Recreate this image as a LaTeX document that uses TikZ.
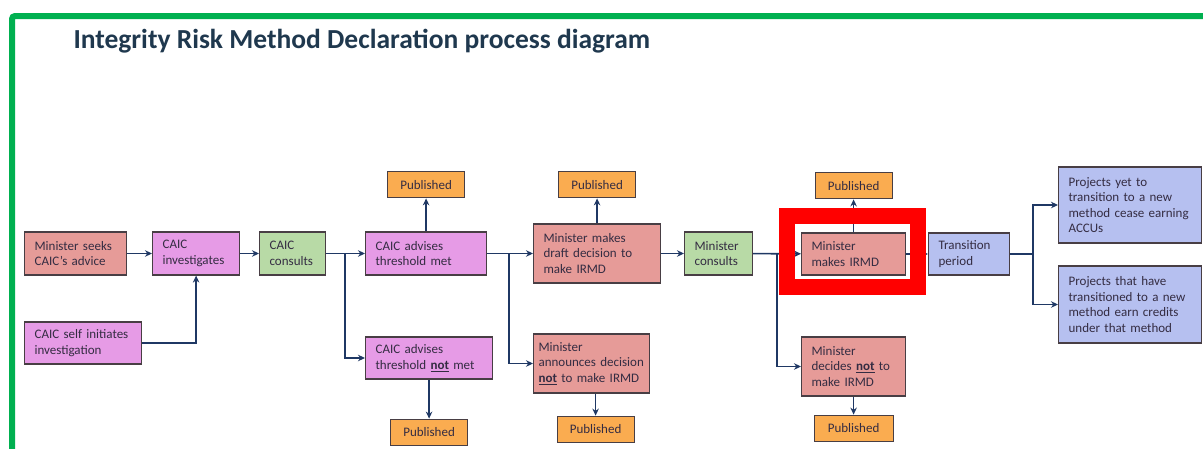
\documentclass[tikz,border=0pt]{standalone}
\usepackage{fontspec}
\setmainfont{Carlito}
\usepackage{xcolor}
\usepackage{tikz}
\usetikzlibrary{positioning,arrows.meta}
\definecolor{minred}{RGB}{230,155,152}
\definecolor{caicpink}{RGB}{230,155,230}
\definecolor{consgreen}{RGB}{184,218,166}
\definecolor{pubamber}{RGB}{250,172,80}
\definecolor{transblue}{RGB}{182,192,240}
\definecolor{boxedge}{RGB}{72,62,68}
\definecolor{boxtext}{RGB}{52,44,66}
\definecolor{flownavy}{RGB}{31,56,100}
\definecolor{titleblue}{RGB}{31,56,78}
\definecolor{framegreen}{RGB}{0,176,80}
\hyphenpenalty=10000

\begin{document}
\begin{tikzpicture}[x=1pt,y=-1pt,>={Stealth[length=7pt,width=6.5pt]},
    box/.style={draw=boxedge,line width=1.2pt,anchor=west,align=left,inner xsep=10pt,inner ysep=2pt,
      text=boxtext,font=\fontsize{13}{15.5}\selectfont},
    pub/.style={draw=boxedge,line width=1.2pt,fill=pubamber,text=boxtext,inner sep=0pt,
      minimum width=77pt,minimum height=26pt,font=\fontsize{13}{15.5}\selectfont},
    flow/.style={->,draw=flownavy,line width=1.6pt}]

    \useasboundingbox (0,0) rectangle (1203,448);
    \draw[framegreen,line width=6pt,rounded corners=3pt] (12,16) rectangle (1240,480);
    \node[anchor=west,text=titleblue,font=\fontsize{27.5}{32}\selectfont\bfseries] (title) at (70,41)
      {Integrity Risk Method Declaration process diagram};

    % CAIC stage
    \node[box,fill=minred,text width=82pt,minimum height=43pt] (seeks) at (24,253.5) {Minister seeks\\CAIC's advice};
    \node[box,fill=caicpink,text width=67pt,minimum height=43pt] (invest) at (152,253.5) {CAIC\\investigates};
    \node[box,fill=consgreen,text width=46pt,minimum height=43pt] (caiccons) at (259,253.5) {CAIC\\consults};
    \node[box,fill=caicpink,text width=97pt,minimum height=42pt] (selfinit) at (24,343) {CAIC self initiates\\investigation};
    \node[box,fill=caicpink,text width=101pt,minimum height=43pt] (met) at (365,253.5) {CAIC advises\\threshold met};
    \node[box,fill=caicpink,text width=107pt,minimum height=42pt] (notmet) at (365,358) {CAIC advises\\threshold \underline{\textbf{not}} met};
    \node[pub,above=33pt of met] (pubmet) {Published};
    \node[pub,below=39pt of notmet] (pubnotmet) {Published};

    % Minister decision
    \node[box,fill=minred,text width=107pt,minimum height=59pt] (draft) at (533,253.5) {Minister makes\\draft decision to\\make IRMD};
    \node[box,fill=minred,text width=106pt,minimum height=59pt,inner xsep=5pt] (announce) at (533,363.5) {Minister\\announces decision\\\underline{\textbf{not}} to make IRMD};
    \node[pub,below=22pt of announce,xshift=4pt] (pubannounce) {Published};
    \node[pub,above=25pt of draft] (pubdraft) {Published};
    \node[box,fill=consgreen,text width=48pt,minimum height=43pt] (mincons) at (684,253.5) {Minister\\consults};
    \node[box,fill=minred,text width=84pt,minimum height=42pt] (irmd) at (801,254) {Minister\\makes IRMD};
    \node[box,fill=minred,text width=84pt,minimum height=59pt] (decnot) at (801,366.5) {Minister\\decides \underline{\textbf{not}} to\\make IRMD};
    \node[pub,above=33pt of irmd] (pubirmd) {Published};
    \node[pub,below=18pt of decnot,minimum width=79pt] (pubdecnot) {Published};

    % transition
    \node[box,fill=transblue,text width=61pt,minimum height=42pt] (trans) at (928,254) {Transition\\period};
    \node[box,fill=transblue,text width=123pt,minimum height=76pt] (yet) at (1058,205) {Projects yet to\\transition to a new\\method cease earning\\ACCUs};
    \node[box,fill=transblue,text width=123pt,minimum height=77pt] (have) at (1058,304.5) {Projects that have\\transitioned to a new\\method earn credits\\under that method};

    \draw[flow] (seeks) -- (invest);
    \draw[flow] (invest) -- (caiccons);
    \draw[flow] (selfinit.east) -| (invest.south);
    \draw[flow] (caiccons) -- (met);
    \draw[flow] (caiccons.east) -- ++(19,0) |- (notmet.west);
    \draw[flow] (met) -- (pubmet);
    \draw[flow] (notmet) -- (pubnotmet);
    \draw[flow] (met) -- (draft);
    \draw[flow] (met.east) -- ++(22,0) |- (announce.west);
    \draw[flow] (draft) -- (pubdraft);
    \draw[flow] (pubannounce.north |- announce.south) -- (pubannounce.north);
    \draw[flow] (draft) -- (mincons);
    \draw[flow] (mincons) -- (irmd);
    \draw[flow] (mincons.east) -- ++(24,0) |- (decnot.west);
    \draw[flow] (irmd) -- (pubirmd);
    \draw[flow] (decnot) -- (pubdecnot);
    \draw[flow] (irmd) -- (trans);
    \draw[flow] (trans.east) -- ++(23,0) |- (yet.west);
    \draw[flow] (trans.east) -- ++(23,0) |- (have.west);

    % highlight
    \draw[red,line width=16pt] (787,216) rectangle (918,287);
  \end{tikzpicture}
\end{document}
